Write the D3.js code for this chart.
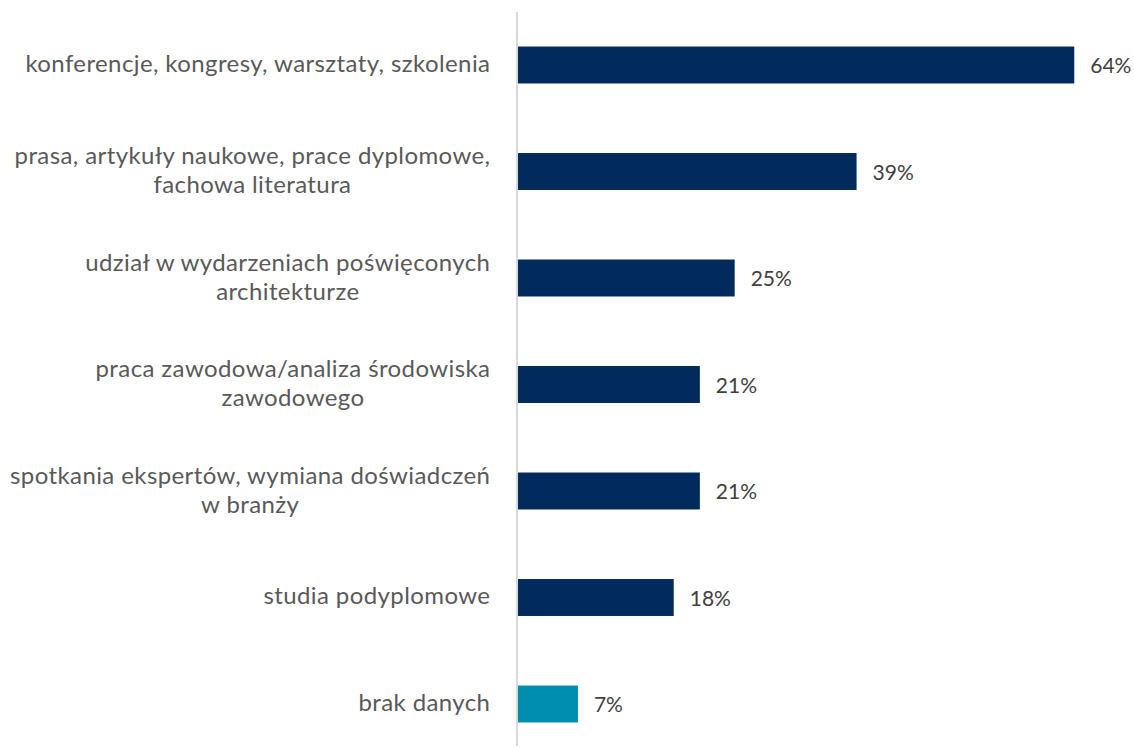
<!DOCTYPE html>
<html>
<head>
<meta charset="utf-8">
<script src="https://cdn.jsdelivr.net/npm/d3@7"></script>
<style>
  body { margin: 0; background: #fff; }
  svg { display: block; }
</style>
</head>
<body>
<svg width="1134" height="749"></svg>
<script>
// categories (each entry = lines of the label)
const categories = [
  ["konferencje, kongresy, warsztaty, szkolenia"],
  ["prasa, artykuły naukowe, prace dyplomowe,", "fachowa literatura"],
  ["udział w wydarzeniach poświęconych", "architekturze"],
  ["praca zawodowa/analiza środowiska", "zawodowego"],
  ["spotkania ekspertów, wymiana doświadczeń", "w branży"],
  ["studia podyplomowe"],
  ["brak danych"]
];
const values = [64, 39, 25, 21, 21, 18, 7];
const barColors = ["#002b5c", "#002b5c", "#002b5c", "#002b5c", "#002b5c", "#002b5c", "#008eb0"];

const svg = d3.select('svg');
const axisX = 517;
const fontFam = "Lato, 'Open Sans', sans-serif";

const xScale = d3.scaleLinear()
  .domain([0, 70])
  .range([axisX, axisX + 609.5]);

const yScale = d3.scaleBand()
  .domain(d3.range(categories.length))
  .range([11.75, 757.25])
  .paddingInner(0.653)
  .paddingOuter(0.3265);

// vertical axis line
svg.append('line')
  .attr('x1', axisX).attr('x2', axisX)
  .attr('y1', 12).attr('y2', 746)
  .attr('stroke', '#d9d9d9')
  .attr('stroke-width', 2);

const rows = svg.selectAll('.row')
  .data(values)
  .enter()
  .append('g')
  .attr('class', 'row');

rows.append('rect')
  .attr('x', axisX + 1)
  .attr('y', (d, i) => yScale(i))
  .attr('width', d => xScale(d) - axisX - 1)
  .attr('height', yScale.bandwidth())
  .attr('fill', (d, i) => barColors[i]);

rows.append('text')
  .attr('x', d => xScale(d) + 16)
  .attr('y', (d, i) => yScale(i) + yScale.bandwidth() / 2 + 8)
  .attr('font-family', fontFam)
  .attr('font-size', 21)
  .attr('fill', '#404040')
  .text(d => d + '%');

// category labels: block right-aligned, lines centred within block
const lineH = 29;
const labelSize = 24;
const spacing = 0.4;
categories.forEach((lines, i) => {
  const cy = yScale(i) + yScale.bandwidth() / 2 + (lines.length > 1 ? 1 : 0.5);
  const g = svg.append('g');
  const texts = lines.map((ln, k) => g.append('text')
    .attr('y', cy + (k - (lines.length - 1) / 2) * lineH + 6)
    .attr('font-family', fontFam)
    .attr('font-size', labelSize)
    .attr('letter-spacing', spacing)
    .attr('fill', '#595959')
    .attr('text-anchor', 'middle')
    .text(ln));
  const widths = texts.map(t => t.node().getComputedTextLength());
  const maxW = d3.max(widths);
  texts.forEach(t => t.attr('x', 490 + spacing - maxW / 2));
});
</script>
</body>
</html>
